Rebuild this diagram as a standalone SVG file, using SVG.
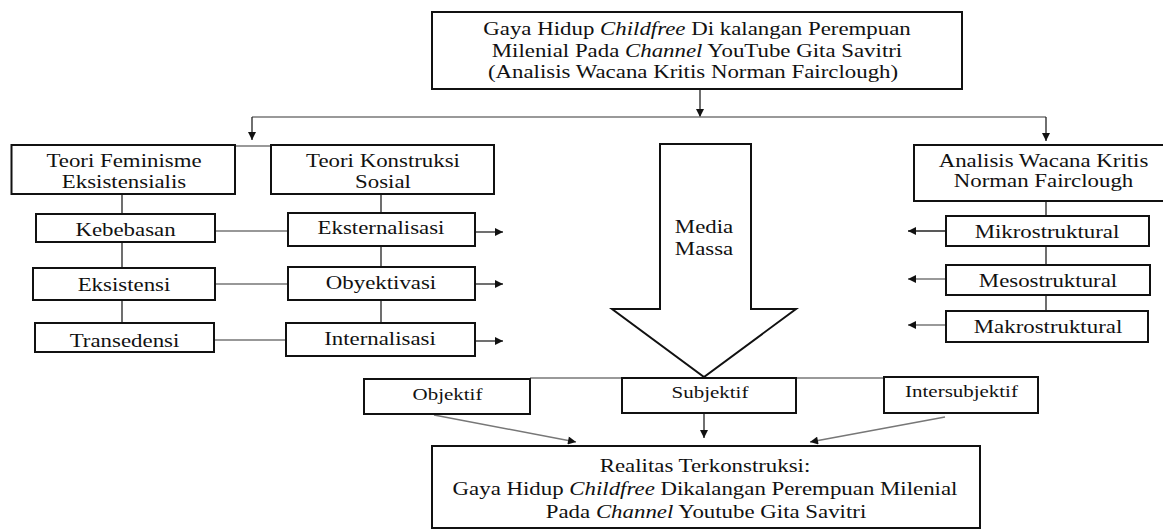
<svg xmlns="http://www.w3.org/2000/svg" width="1163" height="530" viewBox="0 0 1163 530">
<style>
.box{fill:#fff;stroke:#111;stroke-width:2}
.ln{fill:none;stroke:#222;stroke-width:1.3}
.gl{fill:none;stroke:#777;stroke-width:1.5}
.t{font-family:"Liberation Serif","Times New Roman",serif;font-size:18px;fill:#111;text-anchor:middle}
.s{font-family:"Liberation Serif","Times New Roman",serif;font-size:16.5px;fill:#111;text-anchor:middle}
.i{font-style:italic}
</style>
<defs>
<marker id="ah" viewBox="0 0 10 10" refX="10" refY="5" markerUnits="userSpaceOnUse" markerWidth="9" markerHeight="8" orient="auto">
<path d="M0,0 L10,5 L0,10 z" fill="#111"/>
</marker>
</defs>

<g id="connectors">
<path class="ln" d="M700,89 V117" marker-end="url(#ah)"/>
<path class="gl" d="M252,117 H1046"/>
<path class="ln" d="M252,117 V140" marker-end="url(#ah)"/>
<path class="ln" d="M1046,117 V141" marker-end="url(#ah)"/>
<path class="gl" d="M235,146 H271"/>
<path class="ln" d="M122,194 V214 M122,242 V268 M122,300 V323"/>
<path class="ln" d="M381,194 V213 M381,246 V267 M381,300 V323"/>
<path class="gl" d="M215,231 H288 M215,284 H288 M214,340 H286"/>
<path class="ln" d="M475,232 H503" marker-end="url(#ah)"/>
<path class="ln" d="M475,284 H503" marker-end="url(#ah)"/>
<path class="ln" d="M475,341 H503" marker-end="url(#ah)"/>
<path class="ln" d="M1046,201 V216 M1046,246 V265 M1046,295 V311"/>
<path class="ln" d="M946,231 H908" marker-end="url(#ah)"/>
<path class="gl" d="M946,279 H908" marker-end="url(#ah)"/>
<path class="gl" d="M946,325 H908" marker-end="url(#ah)"/>
<path class="gl" d="M530,378 H884"/>
<path class="gl" d="M434,415 L576,442" marker-end="url(#ah)"/>
<path class="ln" d="M704,413 V438" marker-end="url(#ah)"/>
<path class="gl" d="M945,417 L810,442" marker-end="url(#ah)"/>
</g>

<g id="node-title">
<rect class="box" x="432" y="12" width="530" height="77"/>
<text class="t" transform="translate(697,35) scale(1.27,1)">Gaya Hidup <tspan class="i">Childfree</tspan> Di kalangan Perempuan</text>
<text class="t" transform="translate(697,56.5) scale(1.27,1)">Milenial Pada <tspan class="i">Channel</tspan> YouTube Gita Savitri</text>
<text class="t" transform="translate(693,78) scale(1.27,1)">(Analisis Wacana Kritis Norman Fairclough)</text>
</g>

<g id="node-feminisme">
<rect class="box" x="11.5" y="145" width="223.5" height="49"/>
<text class="t" transform="translate(124,167) scale(1.27,1)">Teori Feminisme</text>
<text class="t" transform="translate(124,188) scale(1.27,1)">Eksistensialis</text>
</g>

<g id="node-konstruksi">
<rect class="box" x="271" y="145" width="223" height="49"/>
<text class="t" transform="translate(383,167) scale(1.27,1)">Teori Konstruksi</text>
<text class="t" transform="translate(383,188) scale(1.27,1)">Sosial</text>
</g>

<g id="node-kebebasan">
<rect class="box" x="36" y="214" width="179" height="28"/>
<text class="t" transform="translate(125.5,236) scale(1.27,1)">Kebebasan</text>
</g>
<g id="node-eksistensi">
<rect class="box" x="33" y="268" width="182" height="32"/>
<text class="t" transform="translate(124,291) scale(1.27,1)">Eksistensi</text>
</g>
<g id="node-transedensi">
<rect class="box" x="35" y="323" width="179" height="29"/>
<text class="t" transform="translate(124.5,347) scale(1.27,1)">Transedensi</text>
</g>

<g id="node-eksternalisasi">
<rect class="box" x="288" y="213" width="187" height="33"/>
<text class="t" transform="translate(381,234) scale(1.27,1)">Eksternalisasi</text>
</g>
<g id="node-obyektivasi">
<rect class="box" x="288" y="267" width="187" height="33"/>
<text class="t" transform="translate(381,289) scale(1.27,1)">Obyektivasi</text>
</g>
<g id="node-internalisasi">
<rect class="box" x="286" y="323" width="189" height="33"/>
<text class="t" transform="translate(380,345) scale(1.27,1)">Internalisasi</text>
</g>

<g id="node-media-massa">
<polygon fill="#fff" stroke="#111" stroke-width="2" points="660,144 751,144 751,309 796,309 704,377 612,309 660,309"/>
<text class="t" transform="translate(704,233) scale(1.27,1)">Media</text>
<text class="t" transform="translate(704,255) scale(1.27,1)">Massa</text>
</g>

<g id="node-analisis">
<rect class="box" x="914" y="145" width="252" height="56"/>
<text class="t" transform="translate(1043.5,167) scale(1.27,1)">Analisis Wacana Kritis</text>
<text class="t" transform="translate(1043.5,187) scale(1.27,1)">Norman Fairclough</text>
</g>

<g id="node-mikro">
<rect class="box" x="946" y="216" width="203" height="30"/>
<text class="t" transform="translate(1047,238) scale(1.27,1)">Mikrostruktural</text>
</g>
<g id="node-meso">
<rect class="box" x="946" y="265" width="204" height="30"/>
<text class="t" transform="translate(1048,287) scale(1.27,1)">Mesostruktural</text>
</g>
<g id="node-makro">
<rect class="box" x="946" y="311" width="202" height="31"/>
<text class="t" transform="translate(1048,333) scale(1.27,1)">Makrostruktural</text>
</g>

<g id="node-objektif">
<rect class="box" x="364" y="379" width="166" height="35"/>
<text class="s" transform="translate(447.5,400) scale(1.27,1)">Objektif</text>
</g>
<g id="node-subjektif">
<rect class="box" x="622" y="378" width="174" height="35"/>
<text class="s" transform="translate(710,398) scale(1.27,1)">Subjektif</text>
</g>
<g id="node-intersubjektif">
<rect class="box" x="884" y="377" width="154" height="36"/>
<text class="s" transform="translate(961.5,397) scale(1.27,1)">Intersubjektif</text>
</g>

<g id="node-realitas">
<rect class="box" x="432" y="446" width="548" height="82"/>
<text class="t" transform="translate(705,472) scale(1.27,1)">Realitas Terkonstruksi:</text>
<text class="t" transform="translate(705,494.5) scale(1.27,1)">Gaya Hidup <tspan class="i">Childfree</tspan> Dikalangan Perempuan Milenial</text>
<text class="t" transform="translate(706,518) scale(1.27,1)">Pada <tspan class="i">Channel</tspan> Youtube Gita Savitri</text>
</g>
</svg>
